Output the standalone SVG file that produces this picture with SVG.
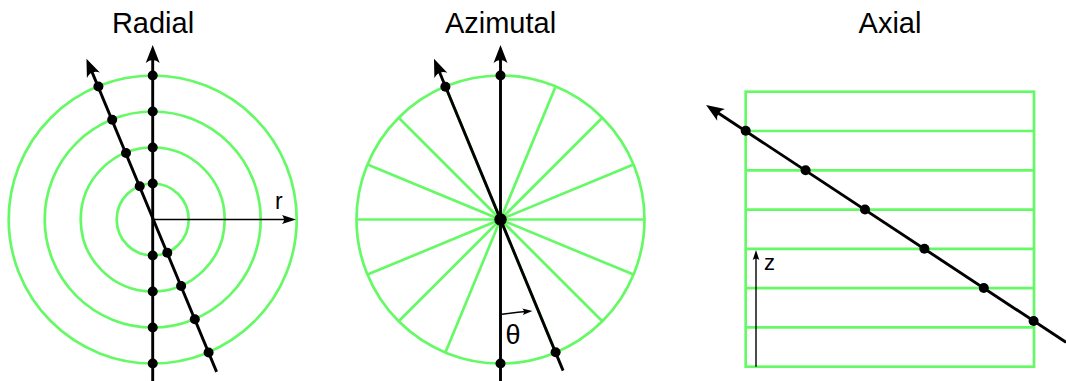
<svg xmlns="http://www.w3.org/2000/svg" width="1066" height="381" viewBox="0 0 1066 381">
<style>
.g{fill:none;stroke:#66f966;stroke-width:2.7}
.b{fill:none;stroke:#000;stroke-width:2.9}
.t{fill:none;stroke:#000;stroke-width:1.4}
.d{fill:#000}
.ttl{font-family:"Liberation Sans",Arial,sans-serif;font-size:29px;fill:#000;text-anchor:middle}
.lbl{font-family:"Liberation Sans",Arial,sans-serif;font-size:23px;fill:#000}
</style>
<defs>
<marker id="big" viewBox="-19 -8 20 16" markerWidth="20" markerHeight="16" refX="-10" refY="0" orient="auto" markerUnits="userSpaceOnUse">
<path d="M0,0 L-18,-7 Q-12,0 -18,7 Z" fill="#000"/>
</marker>
<marker id="sm" viewBox="-15 -6 16 12" markerWidth="16" markerHeight="12" refX="-6" refY="0" orient="auto" markerUnits="userSpaceOnUse">
<path d="M0,0 L-14,-4.5 Q-10,0 -14,4.5 Z" fill="#000"/>
</marker>
<marker id="tiny" viewBox="-11 -5 12 10" markerWidth="12" markerHeight="10" refX="-4" refY="0" orient="auto" markerUnits="userSpaceOnUse">
<path d="M0,0 L-10,-3.3 Q-7,0 -10,3.3 Z" fill="#000"/>
</marker>
</defs>
<rect width="1066" height="381" fill="#fff"/>

<g id="radial">
<text class="ttl" x="153" y="33">Radial</text>
<circle class="g" cx="152.7" cy="219.5" r="36"/>
<circle class="g" cx="152.7" cy="219.5" r="72"/>
<circle class="g" cx="152.7" cy="219.5" r="108"/>
<circle class="g" cx="152.7" cy="219.5" r="144"/>
<text class="lbl" x="275" y="209">r</text>
</g>

<g id="azimutal">
<text class="ttl" x="500.5" y="33">Azimutal</text>
<circle class="g" cx="500.5" cy="219.5" r="144"/>
<g class="g">
<line x1="356.5" y1="219.5" x2="644.5" y2="219.5"/>
<line x1="445.4" y1="86.5" x2="555.6" y2="352.5"/>
<line x1="555.6" y1="86.5" x2="445.4" y2="352.5"/>
<line x1="398.7" y1="117.7" x2="602.3" y2="321.3"/>
<line x1="602.3" y1="117.7" x2="398.7" y2="321.3"/>
<line x1="367.5" y1="164.4" x2="633.5" y2="274.6"/>
<line x1="633.5" y1="164.4" x2="367.5" y2="274.6"/>
</g>
<text class="lbl" x="505.5" y="343.5" style="font-size:27px">θ</text>
</g>

<g id="axial">
<text class="ttl" x="890" y="33">Axial</text>
<rect class="g" x="745.7" y="91.7" width="288.3" height="275"/>
<g class="g">
<line x1="745.7" y1="131" x2="1034" y2="131"/>
<line x1="745.7" y1="170.3" x2="1034" y2="170.3"/>
<line x1="745.7" y1="209.6" x2="1034" y2="209.6"/>
<line x1="745.7" y1="248.9" x2="1034" y2="248.9"/>
<line x1="745.7" y1="288.1" x2="1034" y2="288.1"/>
<line x1="745.7" y1="327.4" x2="1034" y2="327.4"/>
</g>
<text class="lbl" x="764" y="269.5" style="font-size:22px">z</text>
</g>

<g id="connectors">
<line class="b" x1="152.7" y1="381" x2="152.7" y2="55" marker-end="url(#big)"/>
<line class="b" x1="216.6" y1="371.9" x2="90.3" y2="67.9" marker-end="url(#big)"/>
<line class="t" x1="152.7" y1="219.5" x2="290" y2="219.5" marker-end="url(#sm)"/>
<line class="b" x1="500.5" y1="381" x2="500.5" y2="55" marker-end="url(#big)"/>
<line class="b" x1="563.1" y1="370.6" x2="437.8" y2="68" marker-end="url(#big)"/>
<path class="t" d="M502,314.3 Q514,312.6 528.5,311.3" marker-end="url(#tiny)"/>
<line class="b" x1="1066" y1="342.3" x2="714.4" y2="110.5" marker-end="url(#big)"/>
<line class="t" x1="756" y1="366.7" x2="756" y2="254" marker-end="url(#tiny)"/>
</g>

<g id="dots" class="d">
<circle cx="152.7" cy="75.5" r="5"/>
<circle cx="152.7" cy="111.5" r="5"/>
<circle cx="152.7" cy="147.5" r="5"/>
<circle cx="152.7" cy="183.5" r="5"/>
<circle cx="152.7" cy="255.5" r="5"/>
<circle cx="152.7" cy="291.5" r="5"/>
<circle cx="152.7" cy="327.5" r="5"/>
<circle cx="152.7" cy="363.5" r="5"/>
<circle cx="98.4" cy="86.5" r="5"/>
<circle cx="112.2" cy="119.7" r="5"/>
<circle cx="126" cy="153" r="5"/>
<circle cx="139.7" cy="186.2" r="5"/>
<circle cx="167.3" cy="252.8" r="5"/>
<circle cx="181.1" cy="286" r="5"/>
<circle cx="194.8" cy="319.3" r="5"/>
<circle cx="208.6" cy="352.5" r="5"/>
<circle cx="500.5" cy="75.5" r="5"/>
<circle cx="500.5" cy="363.5" r="5"/>
<circle cx="500.5" cy="219.5" r="6.2"/>
<circle cx="445.4" cy="86.8" r="5"/>
<circle cx="555.6" cy="352.3" r="5"/>
<circle cx="745.7" cy="130.8" r="5"/>
<circle cx="805.6" cy="170.3" r="5"/>
<circle cx="865" cy="209.5" r="5"/>
<circle cx="924.4" cy="248.8" r="5"/>
<circle cx="983.8" cy="288" r="5"/>
<circle cx="1033.6" cy="321" r="5"/>
</g>
</svg>
